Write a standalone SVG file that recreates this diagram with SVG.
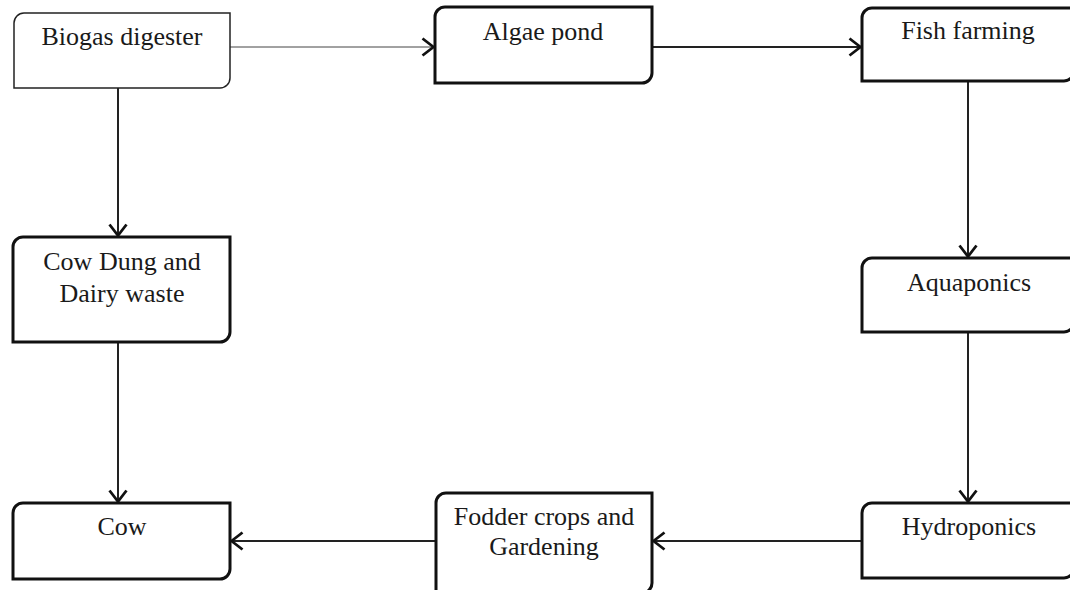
<svg xmlns="http://www.w3.org/2000/svg" width="1070" height="590" viewBox="0 0 1070 590">
<style>
.box{fill:#fff;stroke:#111;stroke-width:3}
.thin{fill:#fff;stroke:#222;stroke-width:1.5}
.lbl{font-family:"Liberation Serif","Times New Roman",serif;font-size:26px;fill:#1a1a1a;text-anchor:middle}
.ln{fill:none;stroke:#222;stroke-width:2}
.lnt{fill:none;stroke:#444;stroke-width:1}
</style>
<defs>
<marker id="ah" viewBox="0 0 14 20" refX="13" refY="10" markerWidth="14" markerHeight="20" markerUnits="userSpaceOnUse" orient="auto">
<path d="M1.5,1.5 L12.5,10 L1.5,18.5" fill="none" stroke="#111" stroke-width="2.8"/>
</marker>
</defs>
<rect width="1070" height="590" fill="#fff"/>
<g id="connectors">
<path class="lnt" d="M230,47 H434" marker-end="url(#ah)"/>
<path class="ln" d="M652,47 H861" marker-end="url(#ah)"/>
<path class="ln" d="M118,88 V236" marker-end="url(#ah)"/>
<path class="ln" d="M968,81 V257" marker-end="url(#ah)"/>
<path class="ln" d="M968,332 V502" marker-end="url(#ah)"/>
<path class="ln" d="M118,342 V502" marker-end="url(#ah)"/>
<path class="ln" d="M862,541 H653" marker-end="url(#ah)"/>
<path class="ln" d="M436,541 H231" marker-end="url(#ah)"/>
</g>
<g id="biogas">
<path class="thin" d="M24,13 H230 V78 A10,10 0 0 1 220,88 H14 V23 A10,10 0 0 1 24,13 Z"/>
<text class="lbl" x="122" y="45">Biogas digester</text>
</g>
<g id="algae">
<path class="box" d="M445,7 H652 V73 A10,10 0 0 1 642,83 H435 V17 A10,10 0 0 1 445,7 Z"/>
<text class="lbl" x="543" y="40">Algae pond</text>
</g>
<g id="fish">
<path class="box" d="M872,8 H1074 V71 A10,10 0 0 1 1064,81 H862 V18 A10,10 0 0 1 872,8 Z"/>
<text class="lbl" x="968" y="39">Fish farming</text>
</g>
<g id="cowdung">
<path class="box" d="M23,237 H230 V332 A10,10 0 0 1 220,342 H13 V247 A10,10 0 0 1 23,237 Z"/>
<text class="lbl" x="122" y="270">Cow Dung and</text>
<text class="lbl" x="122" y="302">Dairy waste</text>
</g>
<g id="aquaponics">
<path class="box" d="M872,258 H1074 V322 A10,10 0 0 1 1064,332 H862 V268 A10,10 0 0 1 872,258 Z"/>
<text class="lbl" x="969" y="291">Aquaponics</text>
</g>
<g id="fodder">
<path class="box" d="M446,493 H652 V583 A10,10 0 0 1 642,593 H436 V503 A10,10 0 0 1 446,493 Z"/>
<text class="lbl" x="544" y="525">Fodder crops and</text>
<text class="lbl" x="544" y="555">Gardening</text>
</g>
<g id="cow">
<path class="box" d="M23,503 H230 V569 A10,10 0 0 1 220,579 H13 V513 A10,10 0 0 1 23,503 Z"/>
<text class="lbl" x="122" y="535">Cow</text>
</g>
<g id="hydroponics">
<path class="box" d="M872,503 H1074 V568 A10,10 0 0 1 1064,578 H862 V513 A10,10 0 0 1 872,503 Z"/>
<text class="lbl" x="969" y="535">Hydroponics</text>
</g>
</svg>
